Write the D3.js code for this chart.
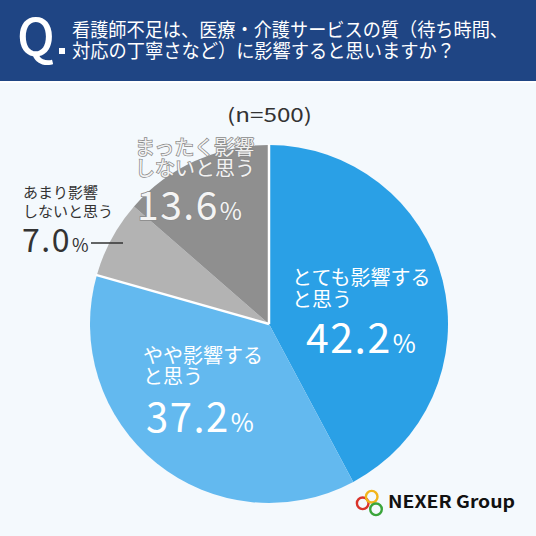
<!DOCTYPE html>
<html>
<head>
<meta charset="utf-8">
<script src="https://cdn.jsdelivr.net/npm/d3@7"></script>
<style>
  html, body { margin: 0; padding: 0; background: #f4f9fd; }
  svg { display: block; }
  text { font-family: "Noto Sans CJK JP", "Noto Sans", sans-serif; }
</style>
</head>
<body>
<div id="chart"></div>
<script>
const width = 536;
const height = 536;

// data
const categories = ["とても影響すると思う", "やや影響すると思う", "あまり影響しないと思う", "まったく影響しないと思う"];
const values = [42.2, 37.2, 7.0, 13.6];
const colors = ["#2aa0e6", "#63b9ef", "#b3b3b3", "#8f8f8f"];
const labelLines = [
  ["とても影響する", "と思う"],
  ["やや影響する", "と思う"],
  ["あまり影響", "しないと思う"],
  ["まったく影響", "しないと思う"]
];
const titleLines = ["看護師不足は、医療・介護サービスの質（待ち時間、", "対応の丁寧さなど）に影響すると思いますか？"];
const sampleNote = "(n=500)";

const svg = d3.select("#chart")
  .append("svg")
  .attr("width", width)
  .attr("height", height);

// background
svg.append("rect")
  .attr("width", width)
  .attr("height", height)
  .attr("fill", "#f4f9fd");

// header band
svg.append("rect")
  .attr("width", width)
  .attr("height", 81)
  .attr("fill", "#1f4584");
svg.append("rect")
  .attr("y", 81)
  .attr("width", width)
  .attr("height", 2)
  .attr("fill", "#ffffff");

svg.append("text")
  .attr("x", 17)
  .attr("y", 55)
  .attr("fill", "#fff")
  .attr("font-family", "Roboto, 'Noto Sans', sans-serif")
  .attr("font-size", 50)
  .attr("font-weight", 500)
  .text("Q");
svg.append("rect")
  .attr("x", 59)
  .attr("y", 48)
  .attr("width", 6)
  .attr("height", 6)
  .attr("fill", "#fff");

titleLines.forEach((t, i) => {
  svg.append("text")
    .attr("x", 72)
    .attr("y", 37 + i * 21)
    .attr("fill", "#fff")
    .attr("font-size", 19)
    .attr("font-weight", 400)
    .attr("textLength", i === 0 ? 436 : 383)
    .attr("lengthAdjust", "spacingAndGlyphs")
    .text(t);
});

svg.append("text")
  .attr("x", 227)
  .attr("y", 122)
  .attr("fill", "#333")
  .attr("font-size", 19)
  .attr("font-family", "'Noto Sans', sans-serif")
  .attr("textLength", 85)
  .attr("lengthAdjust", "spacingAndGlyphs")
  .text(sampleNote);

// pie
const cx = 269, cy = 324, radius = 179;
const pie = d3.pie().sort(null).value(d => d);
const arcs = pie(values);
const arc = d3.arc().innerRadius(0).outerRadius(radius);

const g = svg.append("g").attr("transform", `translate(${cx},${cy})`);

g.selectAll("path.slice")
  .data(arcs)
  .enter().append("path")
  .attr("class", "slice")
  .attr("d", arc)
  .attr("fill", (d, i) => colors[i]);

// white separators at the start of slice 0 and slice 2
[arcs[0].startAngle, arcs[2].startAngle].forEach(a => {
  g.append("line")
    .attr("x1", 0).attr("y1", 0)
    .attr("x2", Math.sin(a) * (radius + 1))
    .attr("y2", -Math.cos(a) * (radius + 1))
    .attr("stroke", "#fff")
    .attr("stroke-width", 2.5);
});

// labels (positions in page coords)
const labelPos = [
  { x: 292, y: 285, gap: 22, big: 353, bx: 306, fs: 20, nfs: 41, pfs: 25, fill: "#fff" },
  { x: 143, y: 363, gap: 21, big: 432, bx: 146, fs: 20, nfs: 40, pfs: 25, fill: "#fff" },
  { x: 23, y: 198, gap: 19, big: 252, bx: 22, fs: 15, nfs: 32, pfs: 18, fill: "#333" },
  { x: 135, y: 155, gap: 21, big: 220, bx: 137, fs: 20, nfs: 39, pfs: 24, fill: "#fff" }
];

labelPos.forEach((p, i) => {
  const outlined = i === 3;
  labelLines[i].forEach((line, j) => {
    const t = svg.append("text")
      .attr("x", p.x)
      .attr("y", p.y + j * p.gap)
      .attr("fill", p.fill)
      .attr("font-size", p.fs)
      .attr("font-weight", 400)
      .text(line);
    if (outlined) {
      t.attr("stroke", "#8a8a8a").attr("stroke-width", 1.5)
        .attr("paint-order", "stroke").attr("fill", "#f2f2f2");
    }
  });
  const num = svg.append("text")
    .attr("x", p.bx)
    .attr("y", p.big)
    .attr("fill", p.fill)
    .attr("font-family", "Roboto, 'Noto Sans', sans-serif")
    .attr("font-weight", 400)
    .attr("letter-spacing", 1.5);
  num.append("tspan")
    .attr("font-size", p.nfs)
    .text(values[i].toFixed(1));
  num.append("tspan")
    .attr("font-size", p.pfs)
    .attr("dx", 1)
    .text("%");
  if (outlined) {
    num.attr("stroke", "#8a8a8a").attr("stroke-width", 1.5)
      .attr("paint-order", "stroke").attr("fill", "#f4f4f4");
  }
});

// leader line for the small slice
svg.append("line")
  .attr("x1", 91).attr("y1", 243)
  .attr("x2", 123).attr("y2", 243)
  .attr("stroke", "#333")
  .attr("stroke-width", 1.5);

// logo
const logo = svg.append("g");
[["#d9342b", 362.7, 503.3], ["#f2b51c", 371.7, 496.7], ["#3aa53a", 376, 509.3]].forEach(c => {
  logo.append("circle")
    .attr("cx", c[1]).attr("cy", c[2]).attr("r", 5.8)
    .attr("fill", "none")
    .attr("stroke", c[0])
    .attr("stroke-width", 2.4);
});
logo.append("text")
  .attr("x", 388)
  .attr("y", 508)
  .attr("fill", "#111")
  .attr("font-family", "Lato, 'Noto Sans', sans-serif")
  .attr("font-weight", 700)
  .attr("font-size", 17)
  .attr("textLength", 127)
  .attr("lengthAdjust", "spacingAndGlyphs")
  .text("NEXER Group");
</script>
</body>
</html>
